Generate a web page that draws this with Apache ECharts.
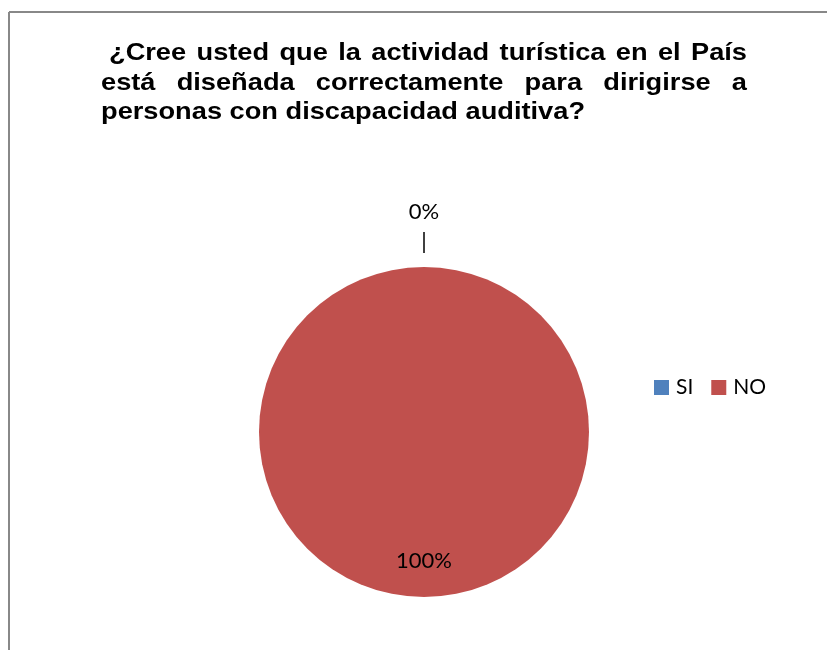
<!DOCTYPE html>
<html>
<head>
<meta charset="utf-8">
<script src="https://cdn.jsdelivr.net/npm/echarts@6/dist/echarts.min.js"></script>
<style>
html,body{margin:0;padding:0;background:#fff;}
#chart{width:827px;height:650px;}
</style>
</head>
<body>
<div id="chart"></div>
<script>
// ---- data ----
const titleLines = [
  "¿Cree usted que la actividad turística en el País",
  "está diseñada correctamente para dirigirse a",
  "personas con discapacidad auditiva?"
];
const categories = ["SI", "NO"];
const values = [0, 100];
const colors = ["#4F81BD", "#C0504D"];

// ---- title (justified, like the original) ----
const titleFont = 'bold 24px "Liberation Sans"';
const ctx = document.createElement('canvas').getContext('2d');
ctx.font = titleFont;
const lineStarts = [109, 101, 101];
const lineRight = 747;
const lineMids = [53, 83, 112];
const lastWidth = ctx.measureText(titleLines[2]).width;
const sx = 484 / lastWidth;
const spaceW = ctx.measureText(' ').width * sx;
const titleGraphics = [];
titleLines.forEach((line, li) => {
  const words = line.split(' ');
  const ws = words.map(w => ctx.measureText(w).width * sx);
  const total = ws.reduce((a, b) => a + b, 0);
  const justify = li < titleLines.length - 1;
  const gap = justify ? (lineRight - lineStarts[li] - total) / (words.length - 1) : spaceW;
  let x = lineStarts[li];
  words.forEach((w, i) => {
    titleGraphics.push({
      type: 'text', x: x, y: lineMids[li], scaleX: sx, silent: true,
      style: { text: w, font: titleFont, fill: '#000', align: 'left', verticalAlign: 'middle' }
    });
    x += ws[i] + gap;
  });
});

const chart = echarts.init(document.getElementById('chart'), null, { renderer: 'canvas' });
chart.setOption({
  backgroundColor: '#fff',
  animation: false,
  color: colors,
  graphic: [
    { type: 'line', silent: true, shape: { x1: 9, y1: 12, x2: 827, y2: 12 }, style: { stroke: '#888', lineWidth: 2 } },
    { type: 'line', silent: true, shape: { x1: 9, y1: 12, x2: 9, y2: 650 }, style: { stroke: '#888', lineWidth: 2 } }
  ].concat(titleGraphics),
  legend: {
    data: categories,
    left: 649, top: 372,
    orient: 'horizontal',
    icon: 'rect',
    itemWidth: 15, itemHeight: 15, itemGap: 18,
    textStyle: { fontFamily: 'Lato', fontSize: 21, color: '#000', padding: [0, 0, 0, 2] }
  },
  series: [{
    type: 'pie',
    center: [424, 432],
    radius: [0, 165],
    startAngle: 90,
    clockwise: true,
    avoidLabelOverlap: false,
    stillShowZeroSum: true,
    itemStyle: { borderWidth: 0 },
    emphasis: { disabled: true },
    label: { formatter: '{d}%', fontFamily: 'Lato', fontSize: 22, color: '#000' },
    labelLine: { show: true, length: 35, length2: 0, lineStyle: { color: '#000', width: 1.5 } },
    labelLayout: function (p) {
      if (p.dataIndex === 0 && p.labelLinePoints) {
        const a = p.labelLinePoints[0], b = p.labelLinePoints[1];
        const dx = b[0] - a[0], dy = b[1] - a[1];
        const len = Math.sqrt(dx * dx + dy * dy) || 1;
        const s = [a[0] + dx / len * 14, a[1] + dy / len * 14];
        const side = p.align === 'right' ? 5 : -5;
        return { dx: side, dy: -20, align: 'center', labelLinePoints: [s, b, b] };
      }
      if (p.dataIndex === 1) {
        return { dy: 43 };
      }
      return {};
    },
    data: categories.map((c, i) => ({
      name: c,
      value: values[i],
      label: { position: i === 0 ? 'outside' : 'inside' },
      labelLine: { show: i === 0 }
    }))
  }]
});
</script>
</body>
</html>
